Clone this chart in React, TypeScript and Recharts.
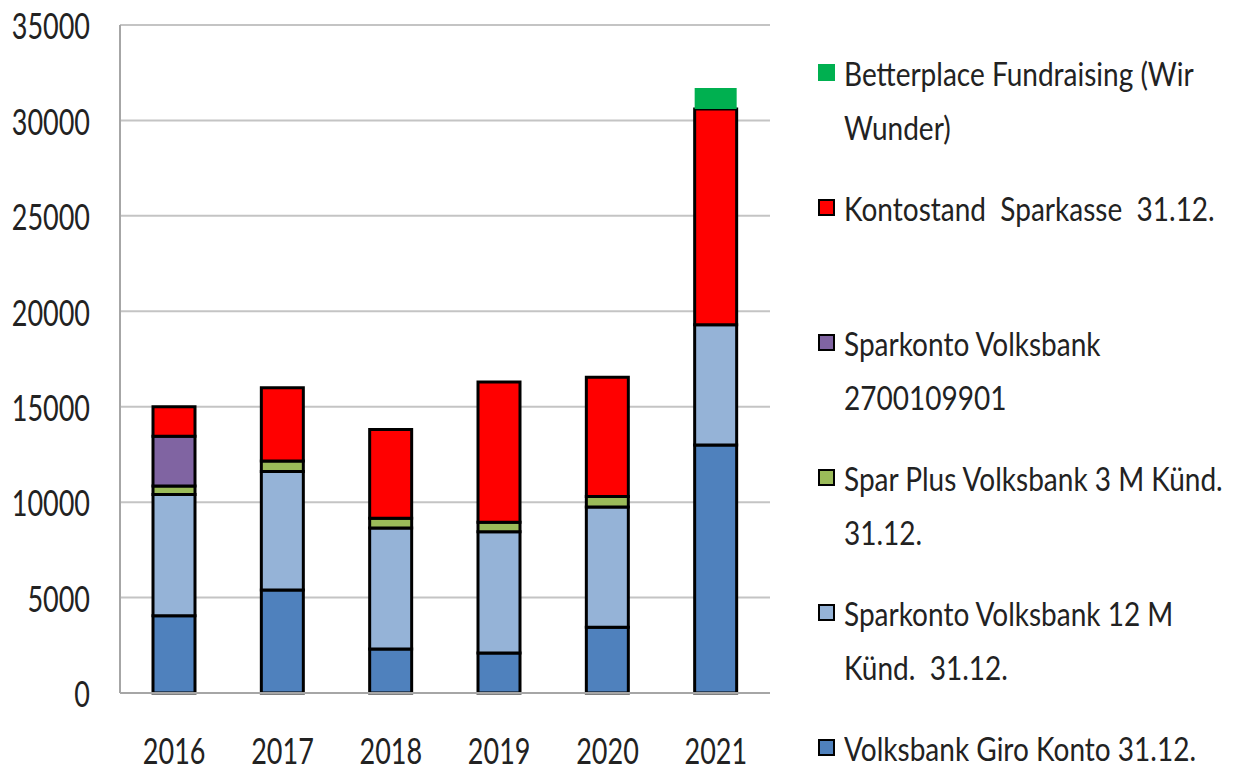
import { BarChart, Bar, XAxis, YAxis, CartesianGrid, Legend } from "recharts";

// Jahre und Kontostände
const years = ["2016", "2017", "2018", "2019", "2020", "2021"];
const giroKonto = [4050, 5400, 2300, 2100, 3450, 13000];
const sparkonto12M = [6350, 6200, 6350, 6350, 6300, 6300];
const sparPlus3M = [450, 550, 500, 500, 550, 0];
const sparkonto2700 = [2600, 0, 0, 0, 0, 0];
const sparkasse = [1550, 3850, 4650, 7350, 6250, 11300];
const betterplace = [0, 0, 0, 0, 0, 1100];
const yTicks = [0, 5000, 10000, 15000, 20000, 25000, 30000, 35000];

const data = years.map((year, i) => ({
  year,
  giro: giroKonto[i],
  spar12: sparkonto12M[i],
  spar3: sparPlus3M[i],
  spar2700: sparkonto2700[i],
  sparkasse: sparkasse[i],
  betterplace: betterplace[i],
}));

// Reihenfolge von unten nach oben im Stapel
const series = [
  { key: "giro", name: "Volksbank Giro Konto 31.12.", color: "#4F81BD", outline: true },
  { key: "spar12", name: "Sparkonto Volksbank 12 M\nKünd.  31.12.", color: "#95B3D7", outline: true },
  { key: "spar3", name: "Spar Plus Volksbank 3 M Künd.\n31.12.", color: "#9BBB59", outline: true },
  { key: "spar2700", name: "Sparkonto Volksbank\n2700109901", color: "#8064A2", outline: true },
  { key: "sparkasse", name: "Kontostand  Sparkasse  31.12.", color: "#FF0000", outline: true },
  { key: "betterplace", name: "Betterplace Fundraising (Wir\nWunder)", color: "#00B050", outline: false },
];

const FONT = "Lato, 'Open Sans', sans-serif";
const TEXT = "#222";
const LEGEND_STRETCH = 1.16;
const LEGEND_LINE = 54 / LEGEND_STRETCH;

const YTick = (props: any) => {
  const { x, y, payload } = props;
  return (
    <text
      transform={`translate(${x},${y}) scale(1,1.38)`}
      textAnchor="end"
      dominantBaseline="central"
      fontFamily={FONT}
      fontSize={27}
      fill={TEXT}
    >
      {payload.value}
    </text>
  );
};

const XTick = (props: any) => {
  const { x, y, payload } = props;
  return (
    <text
      transform={`translate(${x},${y}) scale(1,1.38)`}
      textAnchor="middle"
      dominantBaseline="central"
      fontFamily={FONT}
      fontSize={27}
      fill={TEXT}
    >
      {payload.value}
    </text>
  );
};

const renderLegend = () => (
  <div style={{ fontFamily: FONT, fontSize: 28, color: TEXT }}>
    {[...series].reverse().map((s) => (
      <div key={s.key} style={{ height: 135, display: "flex", alignItems: "flex-start" }}>
        <div
          style={{
            width: 17,
            height: 17,
            marginTop: LEGEND_LINE / 2 - 8.5,
            boxSizing: "border-box",
            background: s.color,
            border: s.outline ? "2.5px solid #000" : "none",
            flex: "none",
          }}
        />
        <div
          style={{
            marginLeft: 9,
            lineHeight: `${LEGEND_LINE}px`,
            whiteSpace: "pre",
            transform: `scaleY(${LEGEND_STRETCH})`,
            transformOrigin: `left ${LEGEND_LINE / 2}px`,
          }}
        >
          {s.name}
        </div>
      </div>
    ))}
  </div>
);

const App = () => {
  return (
    // Body-Rand ausgleichen, damit die Grafik bei 0,0 beginnt
    <div style={{ margin: -8 }}>
      <BarChart
        width={1236}
        height={773}
        data={data}
        margin={{ top: 25, right: 466, bottom: 0, left: 0 }}
        barSize={42}
      >
        <CartesianGrid vertical={false} stroke="#C4C4C4" strokeWidth={2} />
        <XAxis
          dataKey="year"
          height={80}
          axisLine={{ stroke: "#A6A6A6", strokeWidth: 2 }}
          tickLine={false}
          tickMargin={51}
          tick={<XTick />}
          interval={0}
        />
        <YAxis
          width={120}
          domain={[0, 35000]}
          ticks={yTicks}
          axisLine={{ stroke: "#A6A6A6", strokeWidth: 2 }}
          tickLine={false}
          tickMargin={24}
          tick={<YTick />}
          interval={0}
        />
        <Legend
          layout="horizontal"
          verticalAlign="middle"
          align="center"
          width={420}
          wrapperStyle={{ left: 818, top: 73 - LEGEND_LINE / 2 }}
          content={renderLegend}
        />
        {series.map((s) => (
          <Bar
            key={s.key}
            dataKey={s.key}
            name={s.name}
            stackId="konto"
            fill={s.color}
            stroke={s.outline ? "#000" : "none"}
            strokeWidth={3}
            isAnimationActive={false}
          />
        ))}
      </BarChart>
    </div>
  );
};

export default App;
